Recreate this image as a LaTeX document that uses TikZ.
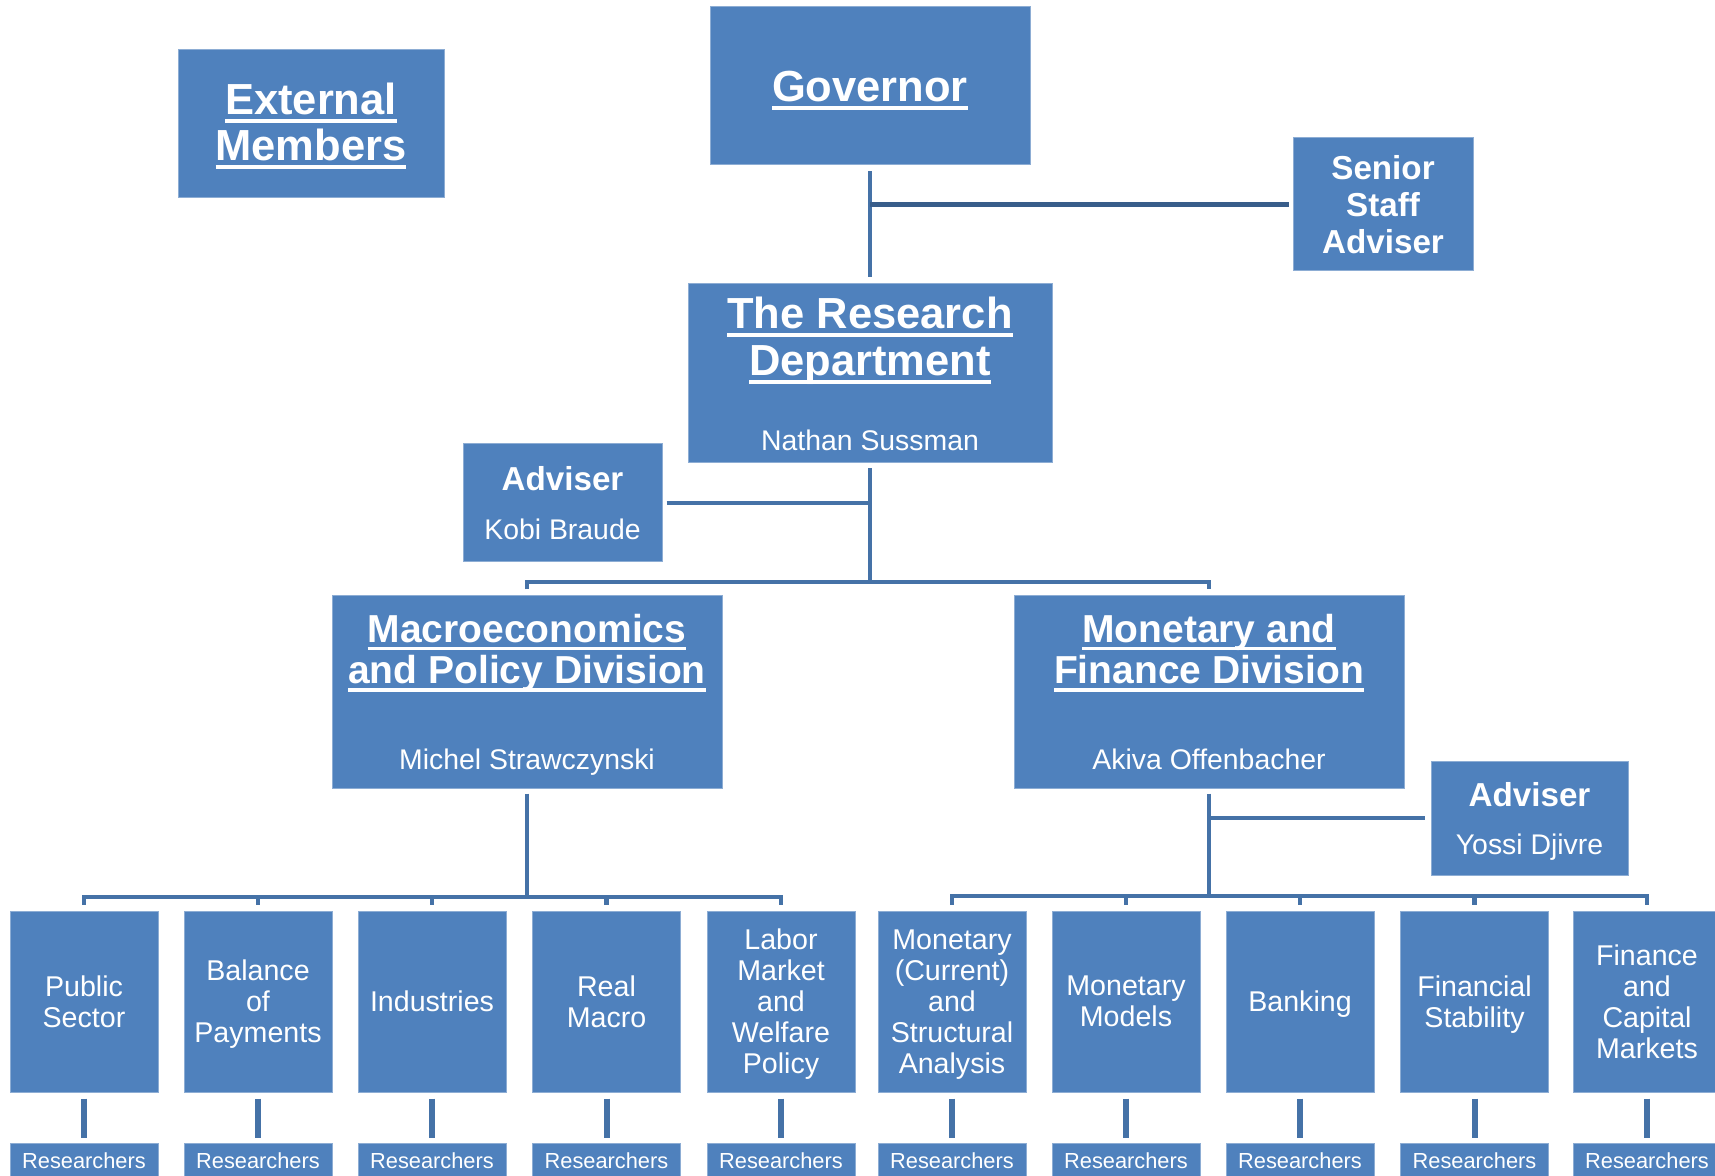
\documentclass[tikz,border=0pt]{standalone}
\usepackage{fontspec}
\setmainfont{Liberation Sans}
\usepackage{xcolor}
\usetikzlibrary{positioning}
\definecolor{boxblue}{RGB}{79,129,189}
\definecolor{lineblue}{RGB}{69,114,167}
\definecolor{darkline}{RGB}{56,93,138}
\newcommand{\personfont}{\mdseries\fontsize{14.2}{16}\selectfont}
\newcommand{\ulin}[1]{\setbox0=\hbox{#1}\rlap{\rule[-0.205em]{\wd0}{0.09em}}\box0}

\begin{document}
\begin{tikzpicture}[x=0.5pt, y=-0.5pt,
      unit/.style={fill=boxblue, draw=boxblue!65!white, line width=0.5pt,
                   text=white, align=center, inner sep=0pt, text depth=0pt},
      headbox/.style={unit, font=\bfseries\fontsize{21.75}{23.6}\selectfont},
      divbox/.style={unit, font=\bfseries\fontsize{19.5}{20.8}\selectfont,
                     minimum width=195pt, minimum height=96pt},
      advbox/.style={unit, font=\bfseries\fontsize{16.6}{18.3}\selectfont},
      secbox/.style={unit, font=\fontsize{14.3}{15.5}\selectfont,
                     minimum width=74pt, minimum height=90.5pt},
      resbox/.style={unit, font=\fontsize{10.9}{12}\selectfont,
                     minimum width=74pt, minimum height=18pt},
      link/.style={draw=lineblue, line width=2.2pt}
    ]
    \useasboundingbox (0,0) rectangle (1715,1176);

    % top level
    \node[headbox, minimum width=160pt, minimum height=79pt] (gov) at (870,86)
          {\ulin{Governor}};
    \node[headbox, font=\bfseries\fontsize{21.75}{23}\selectfont, text depth=2.6pt,
          minimum width=133pt, minimum height=74pt] (ext) at (311,124)
          {\ulin{External}\\\ulin{Members}};
    \node[advbox, minimum width=90pt, minimum height=66.5pt] (ssa) at (1383,204.5)
          {Senior\\Staff\\Adviser};
    \node[headbox, minimum width=182pt, minimum height=89.5pt] (rd) at (870,373.5)
          {\ulin{The Research}\\\ulin{Department}\\[14pt]{\personfont Nathan Sussman}};
    \node[advbox, minimum width=99.5pt, minimum height=59pt] (kobi) at (562.5,503)
          {Adviser\\[6.2pt]{\personfont Kobi Braude}};

    % divisions
    \node[divbox] (macro) at (527,692)
          {\ulin{Macroeconomics}\\\ulin{and Policy Division}\\[22.2pt]{\personfont Michel Strawczynski}};
    \node[divbox] (monfin) at (1209,692)
          {\ulin{Monetary and}\\\ulin{Finance Division}\\[22.2pt]{\personfont Akiva Offenbacher}};
    \node[advbox, minimum width=98.5pt, minimum height=57pt] (yossi) at (1529.5,818)
          {Adviser\\[5.7pt]{\personfont Yossi Djivre}};

    \coordinate (topbus) at (870,582);
    \coordinate (macbus) at (527,897);
    \coordinate (monbus) at (1209,896);

    \draw[link, line width=1.6pt] ([yshift=-3pt]gov.south) -- ([yshift=3pt]rd.north);
    \draw[link, draw=darkline] (gov.south |- ssa.west) -- ([xshift=-2pt]ssa.west);
    \draw[link] ([yshift=-2.5pt]rd.south) -- (topbus);
    \draw[link] ([xshift=2pt]kobi.east) -- (kobi.east -| rd.south);
    \draw[link] ([yshift=3pt]macro.north) -- (macro.north |- topbus)
                -- (monfin.north |- topbus) -- ([yshift=3pt]monfin.north);

    % sections and researchers
    \foreach \x/\i/\txt in {84/1/{Public\\Sector}, 258/2/{Balance\\of\\Payments},
        432/3/Industries, 606.5/4/{Real\\Macro}, 781/5/{Labor\\Market\\and\\Welfare\\Policy},
        952/6/{Monetary\\(Current)\\and\\Structural\\Analysis}, 1126/7/{Monetary\\Models},
        1300/8/Banking, 1474.5/9/{Financial\\Stability}, 1647/10/{Finance\\and\\Capital\\Markets}}{
      \node[secbox] (sec\i) at (\x,1001.5) {\txt};
      \node[resbox] (res\i) at (\x,1161) {Researchers};
      \draw[link, line width=3pt] ([yshift=-3pt]sec\i.south) -- ([yshift=2.5pt]res\i.north);
    }

    \draw[link] ([yshift=-2.5pt]macro.south) -- (macbus);
    \draw[link] ([yshift=3pt]sec1.north) -- (sec1.north |- macbus)
                -- (sec5.north |- macbus) -- ([yshift=3pt]sec5.north);
    \foreach \i in {2,3,4}
      \draw[link] ([yshift=3pt]sec\i.north) -- (sec\i.north |- macbus);

    \draw[link] ([yshift=-2.5pt]monfin.south) -- (monbus);
    \draw[link] (monfin.south |- yossi.west) -- ([xshift=-3pt]yossi.west);
    \draw[link] ([yshift=3pt]sec6.north) -- (sec6.north |- monbus)
                -- (sec10.north |- monbus) -- ([yshift=3pt]sec10.north);
    \foreach \i in {7,8,9}
      \draw[link] ([yshift=3pt]sec\i.north) -- (sec\i.north |- monbus);
  \end{tikzpicture}
\end{document}
